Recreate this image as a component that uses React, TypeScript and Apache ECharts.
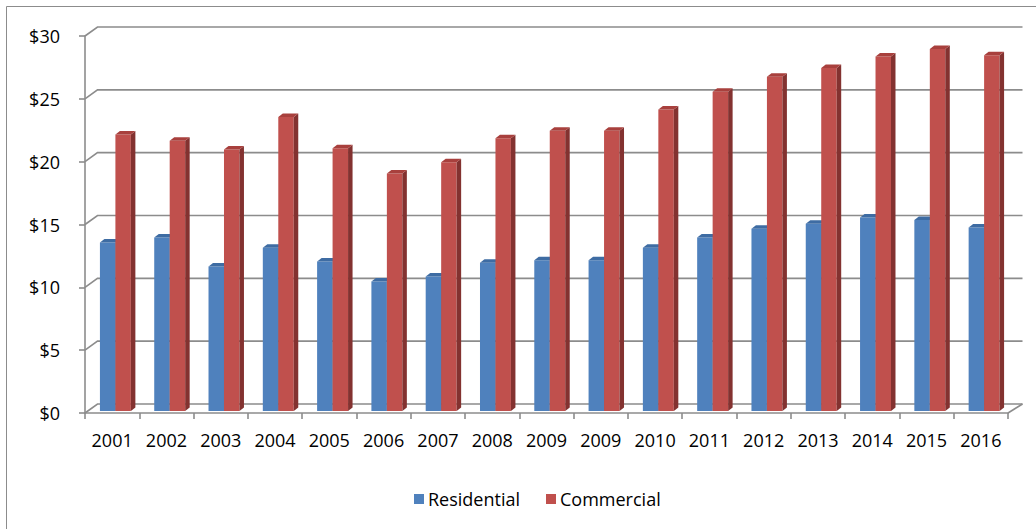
import React, { useEffect, useRef } from "react";
import * as echarts from "echarts";

const categories = ["2001", "2002", "2003", "2004", "2005", "2006", "2007", "2008", "2009", "2009", "2010", "2011", "2012", "2013", "2014", "2015", "2016"];
const residential = [13.4, 13.8, 11.5, 13.0, 11.9, 10.3, 10.7, 11.8, 12.0, 12.0, 13.0, 13.8, 14.5, 14.9, 15.4, 15.2, 14.6];
const commercial = [22.0, 21.5, 20.8, 23.4, 20.9, 18.9, 19.8, 21.7, 22.3, 22.3, 24.0, 25.4, 26.6, 27.3, 28.2, 28.8, 28.3];
const yTicks = [0, 5, 10, 15, 20, 25, 30];

const GRID_COLOR = "#8C8C8C";
const FONT = "Open Sans";

function barRenderer(side: "left" | "right", front: string, sideC: string, topC: string) {
  return (params: any, api: any) => {
    const i = api.value(0);
    const v = api.value(1);
    const top = api.coord([i, v]);
    const base = api.coord([i, 0]);
    const band = api.size([1, 0])[0];
    const w = band * 0.285;
    const shift = band * 0.06;
    const xl = side === "left" ? top[0] + shift - w : top[0] + shift;
    const xr = xl + w;
    const yt = top[1] - 2;
    const yb = base[1] - 2;
    const dx = 4.5;
    const dy = -3.5;
    return {
      type: "group",
      children: [
        { type: "rect", shape: { x: xl, y: yt, width: w, height: yb - yt }, style: { fill: front } },
        { type: "polygon", shape: { points: [[xr, yt], [xr + dx, yt + dy], [xr + dx, yb + dy], [xr, yb]] }, style: { fill: sideC } },
        { type: "polygon", shape: { points: [[xl, yt], [xl + dx, yt + dy], [xr + dx, yt + dy], [xr, yt]] }, style: { fill: topC } },
      ],
    };
  };
}

function gridRenderer(params: any, api: any) {
  const cs = params.coordSys;
  const v = api.value(1);
  const y = api.coord([0, v])[1];
  const children: any[] = [
    {
      type: "polyline",
      shape: { points: [[cs.x, y], [cs.x + 12.5, y - 9], [cs.x + cs.width + 14.5, y - 9]] },
      style: { stroke: GRID_COLOR, lineWidth: 1.6, fill: null },
    },
  ];
  if (v === 0) {
    children.push({
      type: "line",
      shape: { x1: cs.x + cs.width, y1: y, x2: cs.x + cs.width + 14.5, y2: y - 9 },
      style: { stroke: GRID_COLOR, lineWidth: 1.6 },
    });
  }
  return { type: "group", children };
}

export default function App() {
  const ref = useRef<HTMLDivElement>(null);
  useEffect(() => {
    if (!ref.current) return;
    const chart = echarts.init(ref.current, null, { renderer: "svg" });
    chart.setOption({
      animation: false,
      backgroundColor: "#ffffff",
      textStyle: { fontFamily: FONT },
      graphic: [
        {
          type: "rect",
          shape: { x: 6.5, y: 6.5, width: 1100, height: 600 },
          style: { fill: null, stroke: "#8C8C8C", lineWidth: 1 },
          silent: true,
          z: -10,
        },
      ],
      grid: { left: 85, right: 28, top: 36, bottom: 116, containLabel: false },
      xAxis: {
        type: "category",
        data: categories,
        boundaryGap: true,
        axisLine: { show: true, lineStyle: { color: GRID_COLOR, width: 1.6 } },
        axisTick: { show: true, length: 6, lineStyle: { color: GRID_COLOR, width: 1.6 } },
        axisLabel: { color: "#000", fontSize: 18, fontFamily: FONT, margin: 18, interval: 0 },
        splitLine: { show: false },
      },
      yAxis: {
        type: "value",
        min: 0,
        max: 30,
        interval: 5,
        axisLine: { show: true, lineStyle: { color: GRID_COLOR, width: 1.6 } },
        axisTick: { show: true, length: 6, lineStyle: { color: GRID_COLOR, width: 1.6 } },
        axisLabel: { color: "#000", fontSize: 18, fontFamily: FONT, margin: 25, formatter: (v: number) => "$" + v },
        splitLine: { show: false },
      },
      legend: {
        data: [
          { name: "Residential", icon: "rect" },
          { name: "Commercial", icon: "rect" },
        ],
        left: 409,
        top: 485,
        itemWidth: 10,
        itemHeight: 10,
        itemGap: 26,
        textStyle: { color: "#000", fontSize: 18, fontFamily: FONT, padding: [0, 0, 0, -1] },
      },
      series: [
        {
          type: "custom",
          name: "grid",
          clip: false,
          silent: true,
          z: 1,
          renderItem: gridRenderer,
          data: yTicks.map((v) => [0, v]),
        },
        {
          type: "custom",
          name: "Residential",
          clip: false,
          z: 2,
          itemStyle: { color: "#4F81BD" },
          renderItem: barRenderer("left", "#4F81BD", "#385D8A", "#3E6CA3"),
          data: residential.map((v, i) => [i, v]),
        },
        {
          type: "custom",
          name: "Commercial",
          clip: false,
          z: 3,
          itemStyle: { color: "#C0504D" },
          renderItem: barRenderer("right", "#C0504D", "#833230", "#A8403D"),
          data: commercial.map((v, i) => [i, v]),
        },
      ],
    });
    return () => chart.dispose();
  }, []);
  return <div ref={ref} style={{ position: "fixed", left: 0, top: 0, width: 1036, height: 529 }} />;
}
